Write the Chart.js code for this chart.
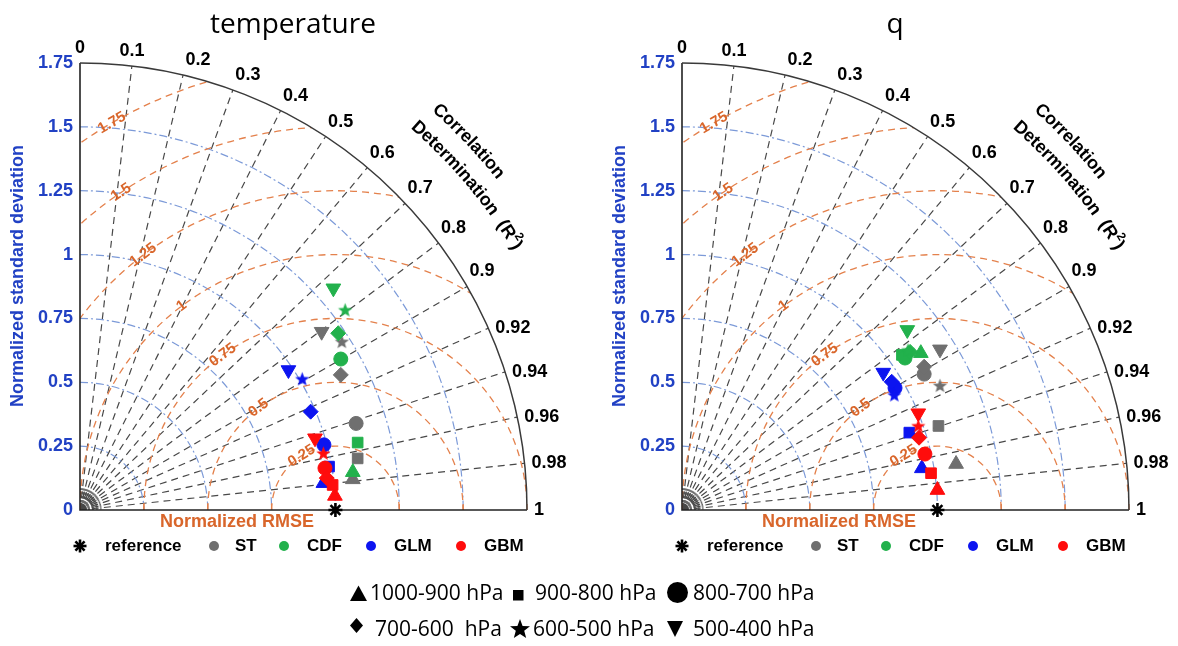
<!DOCTYPE html>
<html><head><meta charset="utf-8">
<script src="https://cdn.jsdelivr.net/npm/chart.js@4.4.1/dist/chart.umd.min.js"></script>
<style>
html,body{margin:0;padding:0;background:#fff;}
#wrap{position:relative;width:1178px;height:646px;overflow:hidden;background:#fff;}
canvas{position:absolute;left:0;top:0;}
</style></head><body>
<div id="wrap"><canvas id="cT" width="1178" height="646"></canvas><canvas id="cQ" width="1178" height="646"></canvas></div>
<script>
// ---------------- data ----------------
const titles = ['temperature', 'q'];
const methodNames = ['ST', 'CDF', 'GLM', 'GBM'];
const methodColors = ['#6f6f6f', '#22b14c', '#0c14f0', '#ff0c0c'];
const levelNames = ['1000-900 hPa', '900-800 hPa', '800-700 hPa', '700-600  hPa', '600-500 hPa', '500-400 hPa'];
const corrTicks = [0, 0.1, 0.2, 0.3, 0.4, 0.5, 0.6, 0.7, 0.8, 0.9, 0.92, 0.94, 0.96, 0.98, 1];
const stdTicks = [0, 0.25, 0.5, 0.75, 1, 1.25, 1.5, 1.75];
const rmseLevels = [0.25, 0.5, 0.75, 1, 1.25, 1.5, 1.75];
const reference = [[1, 0]];
// normalized [x, y] per pressure level: ▲1000-900, ■900-800, ●800-700, ◆700-600, ★600-500, ▼500-400
const tempST  = [[1.068, 0.120], [1.087, 0.202], [1.081, 0.339], [1.021, 0.529], [1.025, 0.659], [0.946, 0.698]];
const tempCDF = [[1.068, 0.148], [1.087, 0.264], [1.021, 0.591], [1.011, 0.692], [1.038, 0.783], [0.992, 0.868]];
const tempGLM = [[0.953, 0.105], [0.975, 0.170], [0.955, 0.255], [0.903, 0.385], [0.870, 0.513], [0.816, 0.548]];
const tempGBM = [[0.998, 0.055], [0.989, 0.098], [0.959, 0.164], [0.966, 0.125], [0.953, 0.222], [0.920, 0.281]];
const qST  = [[1.073, 0.180], [1.004, 0.329], [0.948, 0.532], [0.948, 0.561], [1.010, 0.487], [1.010, 0.629]];
const qCDF = [[0.935, 0.614], [0.861, 0.607], [0.873, 0.595], [0.893, 0.619], [0.885, 0.626], [0.882, 0.705]];
const qGLM = [[0.939, 0.163], [0.890, 0.303], [0.834, 0.478], [0.821, 0.502], [0.831, 0.450], [0.788, 0.538]];
const qGBM = [[1.000, 0.078], [0.975, 0.144], [0.951, 0.219], [0.928, 0.283], [0.925, 0.329], [0.925, 0.379]];

// ---------------- helpers ----------------
const BOLD = '"Liberation Sans", Arial, sans-serif';
const BLUE_TXT = '#2141c4';
const ORANGE_TXT = '#d9662b';

function corrAngle(r) { // radians, 0 at top -> 1 at horizontal
  const d = r <= 0.9 ? 90 - r / 0.9 * 60 : 30 * (1 - r) / 0.1;
  return d * Math.PI / 180;
}
function starPath(g, cx, cy, r, inner) {
  g.beginPath();
  for (let i = 0; i < 10; i++) {
    const rr = i % 2 ? r * inner : r;
    const a = -Math.PI / 2 + i * Math.PI / 5;
    g.lineTo(cx + rr * Math.cos(a), cy + rr * Math.sin(a));
  }
  g.closePath();
}
function starCanvas(color, r) {
  const c = document.createElement('canvas');
  const s = Math.ceil(r * 2 + 2);
  c.width = s; c.height = s;
  const g = c.getContext('2d');
  g.fillStyle = color;
  starPath(g, s / 2, s / 2 + 0.5, r, 0.42);
  g.fill();
  return c;
}
function asterisk(ctx, x, y, r, w) {
  ctx.save(); ctx.strokeStyle = '#000'; ctx.lineWidth = w; ctx.setLineDash([]);
  for (let i = 0; i < 4; i++) {
    const a = i * Math.PI / 4;
    ctx.beginPath(); ctx.moveTo(x - r * Math.cos(a), y - r * Math.sin(a)); ctx.lineTo(x + r * Math.cos(a), y + r * Math.sin(a)); ctx.stroke();
  }
  ctx.restore();
}
function arcText(ctx, ox, oy, radius, centerDeg, parts) {
  const glyphs = []; let total = 0;
  parts.forEach(p => {
    ctx.font = p.font;
    for (const ch of p.t) { const w = ctx.measureText(ch).width; glyphs.push({ch, w, font: p.font, rise: p.rise || 0}); total += w; }
  });
  let phi = centerDeg * Math.PI / 180 + (total / 2) / radius;
  glyphs.forEach(g => {
    const a = phi - (g.w / 2) / radius;
    const rr = radius + g.rise;
    ctx.save();
    ctx.translate(ox + rr * Math.cos(a), oy - rr * Math.sin(a));
    ctx.rotate(Math.PI / 2 - a);
    ctx.font = g.font; ctx.textAlign = 'center'; ctx.textBaseline = 'middle';
    ctx.fillText(g.ch, 0, 0);
    ctx.restore();
    phi -= g.w / radius;
  });
}

const rmseLabelAngles = [122, 127, 126, 127, 127, 124, 120];

const taylorPlugin = {
  id: 'taylor',
  beforeDatasetsDraw(chart) {
    const ctx = chart.ctx;
    const xs = chart.scales.x, ys = chart.scales.y;
    const ox = xs.getPixelForValue(0), oy = ys.getPixelForValue(0);
    const u = xs.getPixelForValue(1) - ox;
    const R = stdTicks[stdTicks.length - 1] * u;
    const rx = xs.getPixelForValue(reference[0][0]);
    ctx.save();
    // clipped grid
    ctx.save();
    ctx.beginPath(); ctx.moveTo(ox, oy); ctx.lineTo(ox + R, oy); ctx.arc(ox, oy, R, 0, -Math.PI / 2, true); ctx.closePath(); ctx.clip();
    // minor fan near origin
    ctx.strokeStyle = '#6a6a6a'; ctx.lineWidth = 1; ctx.setLineDash([2, 2]);
    for (let c = 0.02; c < 0.999; c += (c < 0.9 ? 0.02 : 0.01)) {
      const a = corrAngle(c);
      ctx.beginPath(); ctx.moveTo(ox, oy); ctx.lineTo(ox + 0.085 * u * Math.cos(a), oy - 0.085 * u * Math.sin(a)); ctx.stroke();
    }
    // correlation lines
    ctx.strokeStyle = '#484848'; ctx.lineWidth = 1.2; ctx.setLineDash([7, 5]);
    corrTicks.forEach(c => {
      if (c === 0 || c === 1) return;
      const a = corrAngle(c);
      ctx.beginPath(); ctx.moveTo(ox, oy); ctx.lineTo(ox + R * Math.cos(a), oy - R * Math.sin(a)); ctx.stroke();
    });
    // std arcs
    ctx.strokeStyle = '#7c9ad8'; ctx.lineWidth = 1.2; ctx.setLineDash([8, 3, 2, 3]);
    stdTicks.forEach(s => {
      if (s === 0 || s === stdTicks[stdTicks.length - 1]) return;
      ctx.beginPath(); ctx.arc(ox, oy, s * u, -Math.PI / 2, 0); ctx.stroke();
    });
    // rmse arcs
    ctx.strokeStyle = '#e4814c'; ctx.lineWidth = 1.3; ctx.setLineDash([7, 5]);
    rmseLevels.forEach(r => {
      ctx.beginPath(); ctx.arc(rx, oy, r * u, Math.PI, 2 * Math.PI); ctx.stroke();
    });
    ctx.restore();
    // rmse labels (tangent to their arc, reading up-right)
    ctx.fillStyle = ORANGE_TXT; ctx.font = 'bold 15px ' + BOLD; ctx.textAlign = 'center'; ctx.textBaseline = 'middle';
    rmseLevels.forEach((r, i) => {
      const p = rmseLabelAngles[i] * Math.PI / 180;
      ctx.save();
      ctx.translate(rx + r * u * Math.cos(p), oy - r * u * Math.sin(p));
      ctx.rotate(Math.PI / 2 - p);
      ctx.fillText(String(r), 0, 0);
      ctx.restore();
    });
    // rmse ticks on x axis
    ctx.strokeStyle = '#e4814c'; ctx.lineWidth = 1.3; ctx.setLineDash([]);
    rmseLevels.forEach(r => {
      [reference[0][0] - r, reference[0][0] + r].forEach(v => {
        if (v > 0.01 && v < 1.76) { const px = xs.getPixelForValue(v); ctx.beginPath(); ctx.moveTo(px, oy); ctx.lineTo(px, oy - 6); ctx.stroke(); }
      });
    });
    // axes and outer arc
    ctx.setLineDash([]);
    ctx.strokeStyle = '#222'; ctx.lineWidth = 1.6;
    ctx.beginPath(); ctx.moveTo(ox, oy - R); ctx.lineTo(ox, oy); ctx.lineTo(ox + R, oy); ctx.stroke();
    ctx.strokeStyle = '#3a3a3a'; ctx.lineWidth = 1.5;
    ctx.beginPath(); ctx.arc(ox, oy, R, -Math.PI / 2, 0); ctx.stroke();
    // std tick labels
    ctx.fillStyle = BLUE_TXT; ctx.font = 'bold 18px ' + BOLD; ctx.textAlign = 'right'; ctx.textBaseline = 'middle';
    stdTicks.forEach(s => ctx.fillText(String(s), ox - 7, ys.getPixelForValue(s)));
    // correlation labels
    ctx.fillStyle = '#000';
    corrTicks.forEach(c => {
      const a = corrAngle(c);
      const ex = ox + R * Math.cos(a), ey = oy - R * Math.sin(a);
      if (c <= 0.1) { ctx.textAlign = 'center'; ctx.fillText(String(c), ex, ey - 15); }
      else if (a > 28 * Math.PI / 180) { ctx.textAlign = 'center'; ctx.fillText(String(c), ex + 15, ey - 15); }
      else { ctx.textAlign = 'left'; ctx.fillText(String(c), ex + 7, ey); }
    });
    // curved axis title
    arcText(ctx, ox, oy, R + 90, 43.5, [{t: 'Correlation', font: 'bold 18px ' + BOLD}]);
    arcText(ctx, ox, oy, R + 63, 40, [
      {t: 'Determination  (R', font: 'bold 18px ' + BOLD},
      {t: '2', font: 'bold 12px ' + BOLD, rise: 7},
      {t: ')', font: 'bold 18px ' + BOLD}
    ]);
    // y title
    ctx.save();
    ctx.translate(ox - 62, 276); ctx.rotate(-Math.PI / 2);
    ctx.fillStyle = BLUE_TXT; ctx.font = 'bold 18px ' + BOLD; ctx.textAlign = 'center'; ctx.textBaseline = 'middle';
    ctx.fillText('Normalized standard deviation', 0, 0);
    ctx.restore();
    // x title
    ctx.fillStyle = ORANGE_TXT; ctx.font = 'bold 18px ' + BOLD; ctx.textAlign = 'center'; ctx.textBaseline = 'middle';
    ctx.fillText('Normalized RMSE', ox + 157, 522);
    // chart title
    ctx.fillStyle = '#000'; ctx.font = '28px "Open Sans", sans-serif'; ctx.textAlign = 'center'; ctx.textBaseline = 'alphabetic';
    ctx.fillText(chart.options.plugins.taylor.title, ox + 213, 33);
    // method legend
    const ly = 546;
    asterisk(ctx, ox, ly, 6.5, 2.6);
    ctx.fillStyle = '#000'; ctx.font = 'bold 17px ' + BOLD; ctx.textAlign = 'left'; ctx.textBaseline = 'middle';
    ctx.fillText('reference', ox + 25, ly);
    const dotX = [134, 204, 291, 381], txtX = [155, 227, 314, 404];
    methodNames.forEach((m, i) => {
      ctx.fillStyle = methodColors[i];
      ctx.beginPath(); ctx.arc(ox + dotX[i], ly, 5, 0, 2 * Math.PI); ctx.fill();
      ctx.fillStyle = '#000';
      ctx.fillText(m, ox + txtX[i], ly);
    });
    ctx.restore();
  },
  afterDraw(chart) {
    if (!chart.options.plugins.taylor.sharedLegend) return;
    const ctx = chart.ctx;
    ctx.save();
    ctx.fillStyle = '#000';
    // symbols
    ctx.beginPath(); ctx.moveTo(358.5, 585.5); ctx.lineTo(367, 601); ctx.lineTo(350, 601); ctx.closePath(); ctx.fill();
    ctx.fillRect(513, 590, 10.5, 10.5);
    ctx.beginPath(); ctx.arc(677.5, 592.5, 10.5, 0, 2 * Math.PI); ctx.fill();
    ctx.beginPath(); ctx.moveTo(356.5, 618); ctx.lineTo(363, 625.5); ctx.lineTo(356.5, 633); ctx.lineTo(350, 625.5); ctx.closePath(); ctx.fill();
    starPath(ctx, 520, 629.5, 10.5, 0.42); ctx.fill();
    ctx.beginPath(); ctx.moveTo(667, 621); ctx.lineTo(683, 621); ctx.lineTo(675, 637); ctx.closePath(); ctx.fill();
    ctx.font = '21px "Open Sans", sans-serif'; ctx.textAlign = 'left'; ctx.textBaseline = 'middle';
    const pos = [[370, 594], [535, 594], [693, 594], [375, 630], [533, 630], [693, 630]];
    levelNames.forEach((t, i) => ctx.fillText(t, pos[i][0], pos[i][1]));
    ctx.restore();
  }
};

const levelRadius = [8.5, 7.5, 7, 7.5, 0, 8.5];
const levelRotation = [0, 0, 0, 0, 0, 180];
function levelStyles(color) {
  return ['triangle', 'rect', 'circle', 'rectRot', starCanvas(color, 7.5), 'triangle'];
}

function makeChart(id, title, series, pad, shared) {
  const datasets = [{
    label: 'reference',
    data: reference.map(p => ({x: p[0], y: p[1]})),
    pointStyle: 'star', pointRadius: 7, pointBorderWidth: 2.6,
    pointBorderColor: '#000', pointBackgroundColor: '#000',
    order: 0, clip: false
  }];
  series.forEach((pts, m) => {
    datasets.push({
      label: methodNames[m],
      data: pts.map(p => ({x: p[0], y: p[1]})),
      pointStyle: levelStyles(methodColors[m]),
      pointRadius: levelRadius.map(r => r || 7),
      pointRotation: levelRotation,
      pointBackgroundColor: methodColors[m],
      pointBorderColor: methodColors[m],
      pointBorderWidth: 1,
      order: 4 - m, clip: false
    });
  });
  return new Chart(document.getElementById(id), {
    type: 'scatter',
    data: {datasets},
    options: {
      responsive: false, animation: false, events: [],
      layout: {padding: pad},
      scales: {
        x: {type: 'linear', min: 0, max: 1.75, display: false},
        y: {type: 'linear', min: 0, max: 1.75, display: false}
      },
      plugins: {legend: {display: false}, tooltip: {enabled: false}, taylor: {title, sharedLegend: shared}}
    },
    plugins: [taylorPlugin]
  });
}

makeChart('cT', titles[0], [tempST, tempCDF, tempGLM, tempGBM], {left: 80, right: 651, top: 63, bottom: 136}, true);
makeChart('cQ', titles[1], [qST, qCDF, qGLM, qGBM], {left: 682, right: 49, top: 63, bottom: 136}, false);
</script>
</body></html>
